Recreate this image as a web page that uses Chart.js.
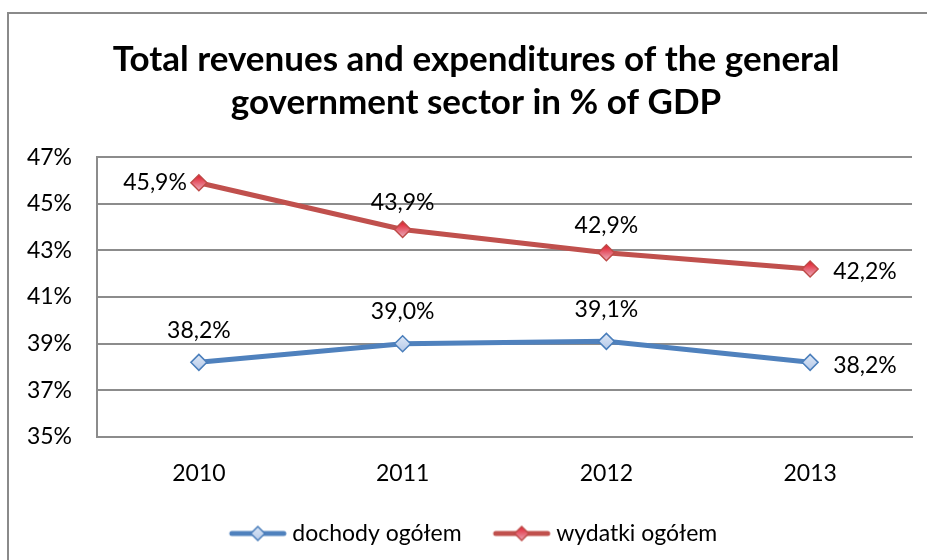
<!DOCTYPE html>
<html>
<head>
<meta charset="utf-8">
<script src="https://cdn.jsdelivr.net/npm/chart.js@4.4.1/dist/chart.umd.min.js"></script>
<style>
  html, body { margin: 0; padding: 0; background: #fff; }
  #wrap { width: 927px; height: 560px; position: relative; }
</style>
</head>
<body>
<div id="wrap"><canvas id="gdpChart"></canvas></div>
<script>
// Dane: sektor instytucji rządowych i samorządowych, % PKB
const years = ['2010', '2011', '2012', '2013'];
const revenues = [38.2, 39.0, 39.1, 38.2];      // dochody ogółem
const expenditures = [45.9, 43.9, 42.9, 42.2];  // wydatki ogółem
const yMin = 35, yMax = 47, yStep = 2;

// gdzie stoi etykieta względem punktu
const revenuesLabelPos = ['above', 'above', 'above', 'right'];
const expendituresLabelPos = ['left', 'above', 'above', 'right'];

const FONT = "Lato, 'Open Sans', sans-serif";
const BLUE = '#4f81bd';
const RED = '#c0504d';
const GRID = '#8c8c8c';

function fmt(v) {
    return v.toFixed(1).replace('.', ',') + '%';
}

// gradient w rombie (jak w Excelu)
function diamondFill(top, bottom) {
    return function(ctx) {
        if (ctx.type !== 'data') return bottom;
        const chart = ctx.chart;
        const scale = chart.scales && chart.scales.y;
        const y = scale ? scale.getPixelForValue(ctx.raw) : NaN;
        if (!isFinite(y)) return bottom;
        const g = chart.ctx.createLinearGradient(0, y - 7, 0, y + 7);
        g.addColorStop(0, top);
        g.addColorStop(1, bottom);
        return g;
    };
}

// próbka do legendy: linia z rombem
function legendSample(color, fillTop, fillBottom, border) {
    const c = document.createElement('canvas');
    c.width = 60; c.height = 18;
    const x = c.getContext('2d');
    x.strokeStyle = color;
    x.lineWidth = 5;
    x.lineCap = 'round';
    x.beginPath();
    x.moveTo(4, 9); x.lineTo(56, 9);
    x.stroke();
    const g = x.createLinearGradient(0, 2, 0, 16);
    g.addColorStop(0, fillTop);
    g.addColorStop(1, fillBottom);
    x.fillStyle = g;
    x.strokeStyle = border;
    x.lineWidth = 1.5;
    x.beginPath();
    x.moveTo(30, 2); x.lineTo(37, 9); x.lineTo(30, 16); x.lineTo(23, 9);
    x.closePath();
    x.fill(); x.stroke();
    return c;
}

const samples = [
    legendSample(BLUE, '#dbe6f6', '#b8cbe9', '#4a7ebb'),
    legendSample(RED, '#e2202f', '#eaa6b6', '#be4b48')
];

// ramka wykresu (lewa i górna krawędź)
const frame = {
    id: 'frame',
    beforeDraw(chart) {
        const c = chart.ctx;
        c.save();
        c.fillStyle = '#fff';
        c.fillRect(0, 0, chart.width, chart.height);
        c.strokeStyle = '#8a8a8a';
        c.lineWidth = 2;
        c.beginPath();
        c.moveTo(8, chart.height);
        c.lineTo(8, 13);
        c.lineTo(chart.width, 13);
        c.stroke();
        c.restore();
    }
};

// etykiety wartości przy punktach
const valueLabels = {
    id: 'valueLabels',
    afterDatasetsDraw(chart) {
        const c = chart.ctx;
        c.save();
        c.font = '23px ' + FONT;
        c.fillStyle = '#000';
        c.textBaseline = 'middle';
        chart.data.datasets.forEach((ds, di) => {
            const meta = chart.getDatasetMeta(di);
            meta.data.forEach((pt, i) => {
                const pos = ds.labelPos[i];
                const text = fmt(ds.data[i]);
                if (pos === 'left') {
                    c.textAlign = 'right';
                    c.fillText(text, pt.x - 12, pt.y);
                } else if (pos === 'right') {
                    c.textAlign = 'left';
                    c.fillText(text, pt.x + 23, pt.y + 3);
                } else {
                    c.textAlign = 'center';
                    c.fillText(text, pt.x, pt.y - ds.labelGap);
                }
            });
        });
        c.restore();
    }
};

const ctx = document.getElementById('gdpChart').getContext('2d');
const chart = new Chart(ctx, {
    type: 'line',
    data: {
        labels: years,
        datasets: [{
            label: 'dochody ogółem',
            data: revenues,
            labelPos: revenuesLabelPos,
            labelGap: 32,
            borderColor: BLUE,
            borderWidth: 5,
            pointStyle: 'rectRot',
            pointRadius: 8,
            pointHoverRadius: 8,
            pointBackgroundColor: diamondFill('#dbe6f6', '#b8cbe9'),
            pointBorderColor: '#4a7ebb',
            pointBorderWidth: 1.5,
            tension: 0
        }, {
            label: 'wydatki ogółem',
            data: expenditures,
            labelPos: expendituresLabelPos,
            labelGap: 27,
            borderColor: RED,
            borderWidth: 5,
            pointStyle: 'rectRot',
            pointRadius: 8,
            pointHoverRadius: 8,
            pointBackgroundColor: diamondFill('#e2202f', '#eaa6b6'),
            pointBorderColor: '#be4b48',
            pointBorderWidth: 1.5,
            tension: 0
        }]
    },
    options: {
        responsive: true,
        maintainAspectRatio: false,
        animation: false,
        layout: {
            padding: { left: 40, right: 15, top: 0, bottom: 5 }
        },
        plugins: {
            title: {
                display: true,
                text: ['Total revenues and expenditures of the general', 'government sector in % of GDP'],
                color: '#000',
                font: { family: FONT, size: 35, weight: 'bold', lineHeight: 1.23 },
                padding: { top: 38, bottom: 33 }
            },
            legend: {
                position: 'bottom',
                labels: {
                    color: '#000',
                    font: { family: FONT, size: 23 },
                    usePointStyle: true,
                    pointStyleWidth: 46,
                    padding: 37,
                    generateLabels: function(chart) {
                        const items = Chart.defaults.plugins.legend.labels.generateLabels(chart);
                        items.forEach((it, i) => { it.pointStyle = samples[i]; });
                        return items;
                    }
                }
            },
            tooltip: { enabled: false }
        },
        scales: {
            x: {
                offset: true,
                afterFit: function(scale) { scale.height = 48; },
                grid: { display: false, drawTicks: false },
                border: { color: GRID, width: 2 },
                ticks: {
                    color: '#000',
                    font: { family: FONT, size: 23 },
                    padding: 23
                }
            },
            y: {
                min: yMin,
                max: yMax,
                afterFit: function(scale) {
                    scale.width = 57;
                    // etykiety wychodzą poza wąską oś - bez przycinania
                    scale._computeLabelArea = function() { return undefined; };
                },
                grid: { color: GRID, lineWidth: 2, drawTicks: false },
                border: { color: GRID, width: 2 },
                ticks: {
                    stepSize: yStep,
                    color: '#000',
                    font: { family: FONT, size: 23 },
                    padding: 25,
                    callback: function(v) { return v + '%'; }
                }
            }
        }
    },
    plugins: [frame, valueLabels]
});
</script>
</body>
</html>
